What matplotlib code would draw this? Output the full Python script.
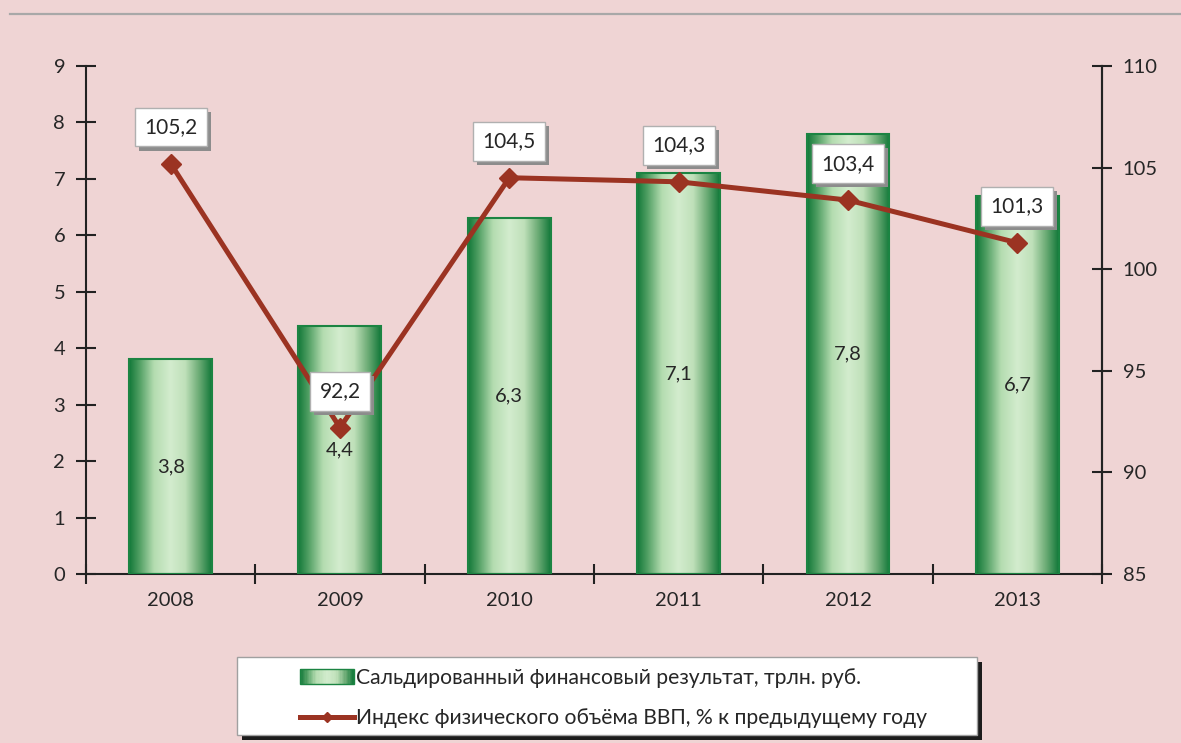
import numpy as np
import matplotlib.pyplot as plt
import matplotlib.patheffects as pe
from matplotlib.colors import LinearSegmentedColormap
from matplotlib.lines import Line2D
from matplotlib.patches import Rectangle
from matplotlib.legend_handler import HandlerBase

years = ['2008', '2009', '2010', '2011', '2012', '2013']
fin_result = [3.8, 4.4, 6.3, 7.1, 7.8, 6.7]
gdp_index = [105.2, 92.2, 104.5, 104.3, 103.4, 101.3]
bar_name = 'Сальдированный финансовый результат, трлн. руб.'
line_name = 'Индекс физического объёма ВВП, % к предыдущему году'

plt.rcParams['font.family'] = ['Lato', 'DejaVu Sans']
plt.rcParams['font.size'] = 14

bg = '#efd4d4'
red = '#9b3322'
edge_green = '#1b8442'
txt = '#262626'
green_cmap = LinearSegmentedColormap.from_list('g', [
    (0.0, '#13793a'), (0.12, '#4f9e62'), (0.3, '#b4dcb0'), (0.5, '#d3ecce'),
    (0.68, '#bfe0b9'), (0.85, '#6aaa74'), (1.0, '#13793a')])

fig = plt.figure(figsize=(11.81, 7.43), dpi=100, facecolor=bg)
ax = fig.add_axes([0.0728, 0.2275, 0.8603, 0.6837])
ax.set_facecolor(bg)
ax2 = ax.twinx()

x = np.arange(len(years))
bars = ax.bar(x, fin_result, width=0.49, facecolor='none', edgecolor=edge_green, linewidth=1.5, zorder=3)
grad = np.linspace(0, 1, 200).reshape(1, -1)
for b, v in zip(bars, fin_result):
    im = ax.imshow(grad, cmap=green_cmap, aspect='auto', zorder=2,
                   extent=[b.get_x(), b.get_x() + b.get_width(), 0, v])
    im.set_clip_path(b)
    ax.text(b.get_x() + b.get_width() / 2, v / 2, f'{v:.1f}'.replace('.', ','),
            ha='center', va='center', color=txt, fontsize=14.5, zorder=4)

ax.set_xlim(-0.5, len(years) - 0.5)
ax.set_ylim(0, 9)
ax.set_yticks(range(0, 10))
ax.set_xticks(np.arange(-0.5, len(years), 1.0))
ax.set_xticklabels([])
ax.set_xticks(x, minor=True)
ax.set_xticklabels(years, minor=True)
ax.tick_params(axis='x', which='major', direction='inout', length=14, width=1.5, color='#222222')
ax.tick_params(axis='x', which='minor', length=0, pad=13, labelcolor=txt, labelsize=14.5)
ax.tick_params(axis='y', direction='inout', length=14, width=1.5, color='#222222', pad=8, labelcolor=txt, labelsize=14.5)

ax2.plot(x, gdp_index, color=red, linewidth=3.6, marker='D', markersize=10, zorder=5)
ax2.set_ylim(85, 110)
ax2.set_yticks(range(85, 111, 5))
ax2.tick_params(axis='y', direction='inout', length=14, width=1.5, color='#222222', pad=8, labelcolor=txt, labelsize=14.5)
shadow = [pe.withSimplePatchShadow(offset=(3, -3), shadow_rgbFace='#8c8c8c', alpha=1.0)]
for xi, v in zip(x, gdp_index):
    s = f'{v:.1f}'.replace('.', ',')
    ax2.annotate(s, (xi, v), xytext=(0, 19), textcoords='offset points', ha='center', va='bottom',
                 color=txt, fontsize=15, zorder=7,
                 bbox=dict(boxstyle='square,pad=0.45', facecolor='white', edgecolor='#b0b0b0',
                           linewidth=1, path_effects=shadow))

for a in (ax, ax2):
    a.spines['top'].set_visible(False)
    for s in ('left', 'right', 'bottom'):
        a.spines[s].set_linewidth(1.5)
        a.spines[s].set_color('#222222')
ax2.spines['left'].set_visible(False)
ax2.spines['bottom'].set_visible(False)

# top rule
fig.add_artist(Line2D([10 / 1181, 1.0], [1 - 14 / 743] * 2, transform=fig.transFigure,
                      color='#a8a8a8', linewidth=1.6))

# legend frame with shadow
fw, fh = 1181, 743
fig.add_artist(Rectangle((242 / fw, (743 - 740) / fh), 740 / fw, 78 / fh, transform=fig.transFigure,
                         facecolor='#1c1c1c', edgecolor='none', zorder=1))
fig.add_artist(Rectangle((237 / fw, (743 - 735) / fh), 740 / fw, 78 / fh, transform=fig.transFigure,
                         facecolor='white', edgecolor='#a0a0a0', linewidth=1, zorder=2))


class GradientHandler(HandlerBase):
    def create_artists(self, legend, orig_handle, xdescent, ydescent, width, height, fontsize, trans):
        n = 40
        arts = []
        for i in range(n):
            arts.append(Rectangle((-xdescent + width * i / n, -ydescent), width / n + 0.3, height,
                                  facecolor=green_cmap((i + 0.5) / n), edgecolor='none', transform=trans))
        arts.append(Rectangle((-xdescent, -ydescent), width, height, facecolor='none',
                              edgecolor=edge_green, linewidth=1, transform=trans))
        return arts


bar_handle = Rectangle((0, 0), 1, 1)
line_handle = Line2D([], [], color=red, linewidth=3.6, marker='D', markersize=5)
leg = fig.legend([bar_handle, line_handle], [bar_name, line_name], loc='upper left',
                 bbox_to_anchor=(300 / fw, 1 - 668 / fh), frameon=False, borderpad=0, borderaxespad=0,
                 handlelength=2.55, handletextpad=0.12, labelspacing=0.95, fontsize=15.2,
                 handler_map={Rectangle: GradientHandler()}, labelcolor=txt)
leg.set_zorder(3)

fig.savefig('out.png', dpi=100, facecolor=bg)
